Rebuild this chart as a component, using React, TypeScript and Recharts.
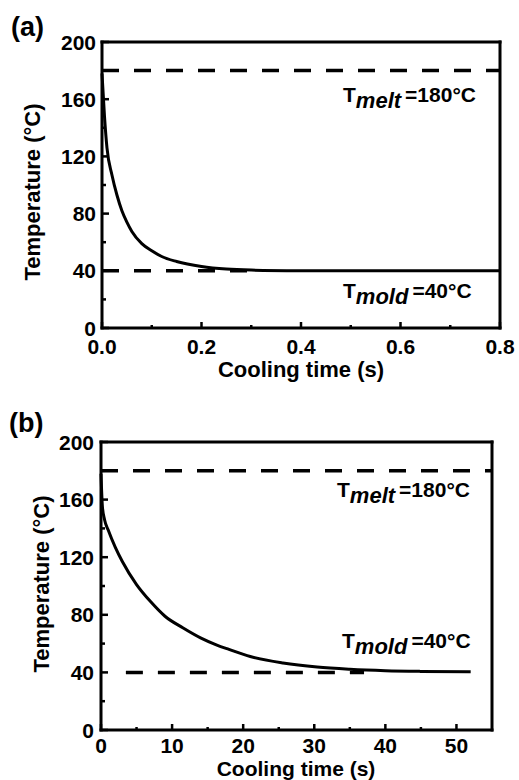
import React from 'react';
import { LineChart, Line, XAxis, YAxis, ReferenceLine } from 'recharts';

// ---- data (a) ----
const timeA = [0, 0.005, 0.01, 0.02, 0.03, 0.04, 0.05, 0.06, 0.08, 0.1, 0.12, 0.15, 0.2, 0.25, 0.3, 0.4, 0.5, 0.6, 0.7, 0.8];
const tempA = [178, 148, 126, 107, 93, 82, 74, 67.5, 59, 54, 50, 46.5, 43, 41.2, 40.5, 40.1, 40, 40, 40, 40];
const xTicksA = [0, 0.1, 0.2, 0.3, 0.4, 0.5, 0.6, 0.7, 0.8];
const xMajorA = [0, 0.2, 0.4, 0.6, 0.8];
const moldSegA = [0, 0.3];

// ---- data (b) ----
const timeB = [0, 0.2, 0.5, 1, 2, 3, 5, 7, 9, 11.5, 14, 16.3, 18, 21, 25.6, 30.4, 35, 40, 45, 52];
const tempB = [178, 155, 146, 139, 127, 117, 101, 89, 79, 71, 64, 59, 56, 51, 46.5, 43.7, 42.2, 41.2, 40.7, 40.4];
const xTicksB = [0, 5, 10, 15, 20, 25, 30, 35, 40, 45, 50];
const xMajorB = [0, 10, 20, 30, 40, 50];
const moldSegB = [3.5, 37];

// ---- shared ----
const yTicks = [0, 20, 40, 60, 80, 100, 120, 140, 160, 180, 200];
const yMajor = [0, 40, 80, 120, 160, 200];
const T_MELT = 180;
const T_MOLD = 40;

const F = 'Liberation Sans, Arial, sans-serif';

const dataA = timeA.map((t, i) => ({ t, T: tempA[i] }));
const dataB = timeB.map((t, i) => ({ t, T: tempB[i] }));

type Side = 'bottom' | 'top' | 'left' | 'right';

function makeTick(side: Side, majors: number[], fmt: (v: number) => string, offset: number) {
  return (props: any) => {
    const { x, y, payload } = props;
    const v = payload.value;
    const major = majors.includes(v);
    const len = major ? 6 : 3;
    let x1 = x, y1 = y, x2 = x, y2 = y;
    if (side === 'bottom') { y2 = y - len; }
    if (side === 'top') { y1 = y + 1; y2 = y + 1 + len; }
    if (side === 'left') { x1 = x + 1; x2 = x + 1 + len; }
    if (side === 'right') { x2 = x - len; }
    return (
      <g>
        <line x1={x1} y1={y1} x2={x2} y2={y2} stroke="#000" strokeWidth={2.5} />
        {major && side === 'bottom' && (
          <text x={x} y={y + offset} textAnchor="middle" fontFamily={F} fontWeight="bold" fontSize={21} fill="#000">
            {fmt(v)}
          </text>
        )}
        {major && side === 'left' && (
          <text x={x + 1 - offset} y={y} dy="0.36em" textAnchor="end" fontFamily={F} fontWeight="bold" fontSize={21} fill="#000">
            {fmt(v)}
          </text>
        )}
      </g>
    );
  };
}

const axisLine = { stroke: '#000', strokeWidth: 3, strokeLinecap: 'square' as const };

function Panel(props: {
  data: { t: number; T: number }[];
  xDomain: [number, number];
  xTicks: number[];
  xMajor: number[];
  xFmt: (v: number) => string;
  moldSeg: number[];
  margin: { top: number; right: number; bottom: number; left: number };
  xLabelOffset: number;
  yLabelOffset: number;
}) {
  const { data, xDomain, xTicks, xMajor, xFmt, moldSeg, margin, xLabelOffset, yLabelOffset } = props;
  return (
    <LineChart width={519} height={390} margin={margin}>
      <XAxis
        xAxisId={0}
        dataKey="t"
        type="number"
        domain={xDomain}
        ticks={xTicks}
        interval={0}
        height={1}
        tickSize={0}
        tickMargin={0}
        tickLine={false}
        axisLine={axisLine}
        tick={makeTick('bottom', xMajor, xFmt, xLabelOffset)}
      />
      <XAxis
        xAxisId="top"
        orientation="top"
        dataKey="t"
        type="number"
        domain={xDomain}
        ticks={xTicks}
        interval={0}
        height={1}
        tickSize={0}
        tickMargin={0}
        tickLine={false}
        axisLine={axisLine}
        tick={makeTick('top', xMajor, xFmt, 0)}
      />
      <YAxis
        yAxisId={0}
        type="number"
        domain={[0, 200]}
        ticks={yTicks}
        interval={0}
        width={1}
        tickSize={0}
        tickMargin={0}
        tickLine={false}
        axisLine={axisLine}
        tick={makeTick('left', yMajor, (v) => String(v), yLabelOffset)}
      />
      <YAxis
        yAxisId="r"
        orientation="right"
        type="number"
        domain={[0, 200]}
        ticks={yTicks}
        interval={0}
        width={1}
        tickSize={0}
        tickMargin={0}
        tickLine={false}
        axisLine={axisLine}
        tick={makeTick('right', yMajor, (v) => String(v), 0)}
      />
      <ReferenceLine y={T_MELT} stroke="#000" strokeWidth={3.5} strokeDasharray="17 15" />
      <ReferenceLine
        segment={[{ x: moldSeg[0], y: T_MOLD }, { x: moldSeg[1], y: T_MOLD }]}
        stroke="#000"
        strokeWidth={3.5}
        strokeDasharray="17 15"
      />
      <Line
        data={data}
        dataKey="T"
        type="monotone"
        stroke="#000"
        strokeWidth={3}
        dot={false}
        isAnimationActive={false}
      />
    </LineChart>
  );
}

const txt = { fontFamily: F, fontWeight: 'bold' as const, fill: '#000' };

function Annot(props: { x: number; y: number; sub: string; rest: string }) {
  const { x, y, sub, rest } = props;
  return (
    <text x={x} y={y} fontSize={21} {...txt}>
      T
      <tspan fontStyle="italic" fontSize={22} dy={6}>{sub}</tspan>
      <tspan dy={-6} dx={4}>{rest}</tspan>
    </text>
  );
}

export default function App() {
  return (
    <div style={{ position: 'absolute', left: 0, top: 0, width: 519, height: 780, background: '#fff' }}>
      <div style={{ position: 'absolute', left: 0, top: 0 }}>
        <Panel
          data={dataA}
          xDomain={[0, 0.8]}
          xTicks={xTicksA}
          xMajor={xMajorA}
          xFmt={(v) => v.toFixed(1)}
          moldSeg={moldSegA}
          margin={{ top: 41, right: 18, bottom: 61, left: 101 }}
          xLabelOffset={26}
          yLabelOffset={7}
        />
      </div>
      <div style={{ position: 'absolute', left: 0, top: 390 }}>
        <Panel
          data={dataB}
          xDomain={[0, 55]}
          xTicks={xTicksB}
          xMajor={xMajorB}
          xFmt={(v) => String(v)}
          moldSeg={moldSegB}
          margin={{ top: 51, right: 26, bottom: 49, left: 100 }}
          xLabelOffset={23}
          yLabelOffset={8}
        />
      </div>
      <svg width={519} height={780} style={{ position: 'absolute', left: 0, top: 0, pointerEvents: 'none' }}>
        <text x={11} y={36} fontSize={27} {...txt}>(a)</text>
        <text x={9} y={432} fontSize={27} {...txt}>(b)</text>
        <text x={40} y={192} fontSize={22} textAnchor="middle" transform="rotate(-90 40 192)" {...txt}>
          Temperature (°C)
        </text>
        <text x={49} y={584} fontSize={22} textAnchor="middle" transform="rotate(-90 49 584)" {...txt}>
          Temperature (°C)
        </text>
        <text x={301} y={377} fontSize={22} textAnchor="middle" {...txt}>Cooling time (s)</text>
        <text x={296} y={776} fontSize={21} textAnchor="middle" {...txt}>Cooling time (s)</text>
        <Annot x={343} y={102} sub="melt" rest="=180°C" />
        <Annot x={343} y={298} sub="mold" rest="=40°C" />
        <Annot x={337} y={497} sub="melt" rest="=180°C" />
        <Annot x={342} y={648} sub="mold" rest="=40°C" />
      </svg>
    </div>
  );
}
